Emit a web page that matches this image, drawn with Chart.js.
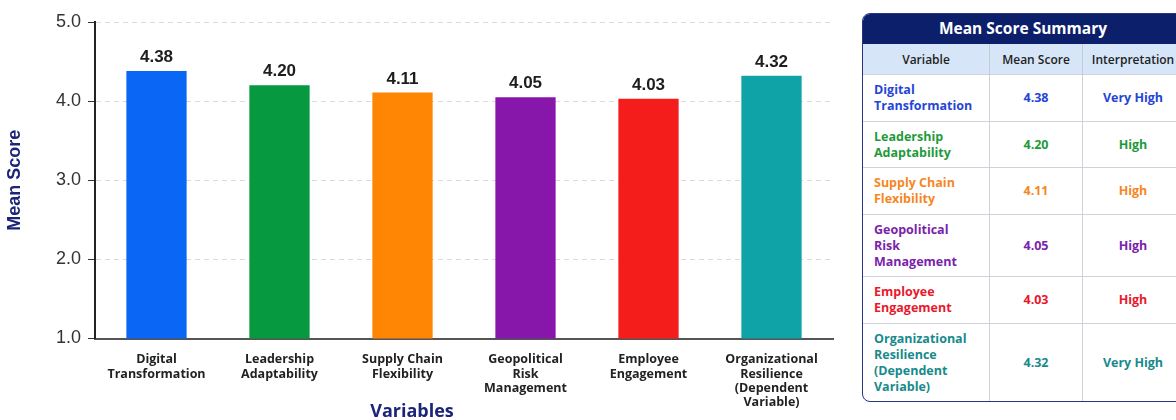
<!DOCTYPE html>
<html>
<head>
<meta charset="utf-8">
<script src="https://cdn.jsdelivr.net/npm/chart.js@4"></script>
<style>
  html, body { margin: 0; padding: 0; background: #fff; overflow: hidden; }
  body { width: 1176px; height: 420px; position: relative; font-family: "Open Sans", sans-serif; }
  #chartBox { position: absolute; left: 0; top: 0; width: 845px; height: 420px; }
  #xTitle { position: absolute; left: 312px; top: 398px; width: 200px; text-align: center;
            font: 700 18px "Open Sans", sans-serif; color: #1b2477; }
  #summary { position: absolute; left: 862px; top: 13px; width: 320px; border: 1.5px solid #2b3383;
             border-radius: 8px; overflow: hidden; }
  #summary table { border-collapse: collapse; width: 100%; font-size: 12.5px; font-weight: 700; }
  #summary caption { background: #0c1f6b; color: #fff; font-size: 15.5px; font-weight: 700;
                     height: 30px; line-height: 29px; }
  #summary th { background: #d6e6f8; color: #222; font-size: 12px; font-weight: 600; height: 30px;
                padding: 0; border-left: 1px solid #c6cbd3; }
  #summary td { border-top: 1px solid #cfd2d8; border-left: 1px solid #cfd2d8; line-height: 16px;
                padding: 7px 6px 6.5px; text-align: center; }
  #summary th:first-child, #summary td:first-child { border-left: none; }
  #summary td:first-child { text-align: left; padding-left: 11px; }
</style>
</head>
<body>
<div id="chartBox"><canvas id="canvas_means"></canvas></div>
<div id="xTitle">Variables</div>
<div id="summary"><table id="summaryTable"></table></div>
<script>
var variables = [
    ['Digital', 'Transformation'],
    ['Leadership', 'Adaptability'],
    ['Supply Chain', 'Flexibility'],
    ['Geopolitical', 'Risk', 'Management'],
    ['Employee', 'Engagement'],
    ['Organizational', 'Resilience', '(Dependent', 'Variable)']
];
var meanScores = [4.38, 4.20, 4.11, 4.05, 4.03, 4.32];
var interpretations = ['Very High', 'High', 'High', 'High', 'High', 'Very High'];
var yTicks = [1, 2, 3, 4, 5];

var barColors = ['#0a66f5', '#06993f', '#ff8505', '#8617aa', '#f51c1c', '#0fa2a7'];
var textColors = ['#2545d6', '#1f9a3b', '#f7861f', '#7a23aa', '#e8192b', '#178a8c'];
var navy = '#1b2477';

// summary table
var tbl = document.getElementById('summaryTable');
var html = '<caption>Mean Score Summary</caption>' +
    '<tr><th style="width:126px">Variable</th><th style="width:92px">Mean Score</th><th>Interpretation</th></tr>';
variables.forEach((v, i) => {
    var c = textColors[i];
    html += '<tr style="color:' + c + '"><td>' + v.join('<br>') + '</td><td>' +
        meanScores[i].toFixed(2) + '</td><td>' + interpretations[i] + '</td></tr>';
});
tbl.innerHTML = html;

const valueLabels = {
    id: 'valueLabels',
    afterDatasetsDraw(chart) {
        const ctx = chart.ctx;
        const meta = chart.getDatasetMeta(0);
        ctx.save();
        ctx.font = 'bold 17px "Liberation Sans", Arial, sans-serif';
        ctx.fillStyle = '#1e1e1e';
        ctx.textAlign = 'center';
        ctx.textBaseline = 'bottom';
        meta.data.forEach((bar, i) => {
            ctx.fillText(meanScores[i].toFixed(2), bar.x, bar.y - 5);
        });
        ctx.restore();
    }
};

const ctx = document.getElementById('canvas_means').getContext('2d');
var chart1 = new Chart(ctx, {
    type: 'bar',
    data: {
        labels: variables,
        datasets: [{
            label: 'Mean Score',
            data: meanScores,
            backgroundColor: barColors,
            barPercentage: 0.49,
            categoryPercentage: 1.0
        }]
    },
    plugins: [valueLabels],
    options: {
        responsive: true,
        maintainAspectRatio: false,
        animation: false,
        layout: { padding: { left: 4, top: 22, right: 12, bottom: 4 } },
        plugins: {
            legend: { display: false },
            tooltip: { enabled: false }
        },
        scales: {
            x: {
                grid: { display: false },
                border: { color: '#555', width: 2 },
                ticks: {
                    color: '#222',
                    padding: 6,
                    maxRotation: 0,
                    autoSkip: false,
                    font: { family: 'Open Sans', size: 12.5, weight: 'bold', lineHeight: 1.15 }
                }
            },
            y: {
                min: 1,
                max: 5,
                afterBuildTicks: (scale) => { scale.ticks = yTicks.map(v => ({ value: v })); },
                afterFit: (scale) => { scale.width = 91; },
                grid: { color: '#dadada', tickColor: '#333', tickLength: 7, lineWidth: 1 },
                border: { color: '#222', width: 2, dash: [5, 4] },
                title: {
                    display: true,
                    text: 'Mean Score',
                    color: navy,
                    font: { family: 'Liberation Sans', size: 18, weight: 'bold' },
                    padding: { top: 0, bottom: 4 }
                },
                ticks: {
                    color: '#333',
                    padding: 7,
                    font: { family: 'Liberation Sans', size: 18 },
                    callback: v => v.toFixed(1)
                }
            }
        }
    }
});
</script>
</body>
</html>
